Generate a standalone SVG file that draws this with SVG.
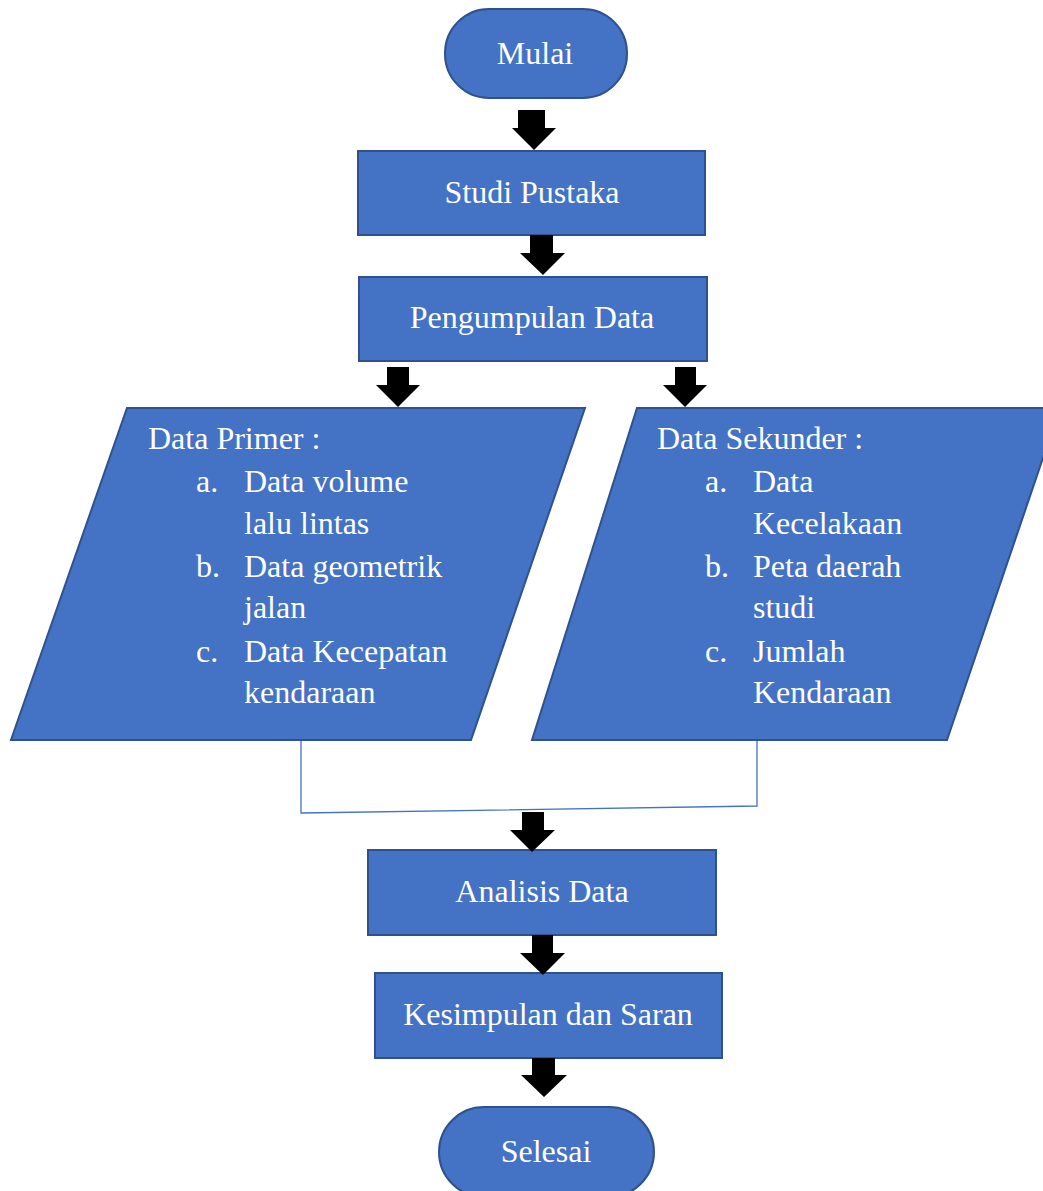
<svg xmlns="http://www.w3.org/2000/svg" width="1043" height="1191" viewBox="0 0 1043 1191">
<style>
.shape{fill:#4472C4;stroke:#2F528F;stroke-width:2}
.t{font-family:"Liberation Serif","Times New Roman",serif;font-size:32px;fill:#FFFFFF}
.c{text-anchor:middle}
.arrow{fill:#000000}
.line{fill:none;stroke:#4472C4;stroke-width:1.3}
</style>
<rect width="1043" height="1191" fill="#FFFFFF"/>
<g id="mulai">
<rect class="shape" x="445" y="9" width="182" height="89" rx="44" ry="44"/>
<text class="t c" x="535" y="64">Mulai</text>
</g>
<g id="studi-pustaka">
<rect class="shape" x="358" y="151" width="347" height="84"/>
<text class="t c" x="532" y="203">Studi Pustaka</text>
</g>
<g id="pengumpulan-data">
<rect class="shape" x="359" y="277" width="348" height="84"/>
<text class="t c" x="532" y="328">Pengumpulan Data</text>
</g>
<g id="data-primer">
<polygon class="shape" points="127,408 585,408 471,740 11,740"/>
<text class="t" x="148" y="449">Data Primer :</text>
<text class="t" x="196" y="492">a.</text>
<text class="t" x="244" y="492">Data volume</text>
<text class="t" x="244" y="534">lalu lintas</text>
<text class="t" x="196" y="577">b.</text>
<text class="t" x="244" y="577">Data geometrik</text>
<text class="t" x="244" y="618">jalan</text>
<text class="t" x="196" y="662">c.</text>
<text class="t" x="244" y="662">Data Kecepatan</text>
<text class="t" x="244" y="703">kendaraan</text>
</g>
<g id="data-sekunder">
<polygon class="shape" points="637,408 1060,408 947,740 532,740"/>
<text class="t" x="657" y="449">Data Sekunder :</text>
<text class="t" x="705" y="492">a.</text>
<text class="t" x="753" y="492">Data</text>
<text class="t" x="753" y="534">Kecelakaan</text>
<text class="t" x="705" y="577">b.</text>
<text class="t" x="753" y="577">Peta daerah</text>
<text class="t" x="753" y="618">studi</text>
<text class="t" x="705" y="662">c.</text>
<text class="t" x="753" y="662">Jumlah</text>
<text class="t" x="753" y="703">Kendaraan</text>
</g>
<g id="analisis-data">
<rect class="shape" x="368" y="850" width="348" height="85"/>
<text class="t c" x="542" y="902">Analisis Data</text>
</g>
<g id="kesimpulan">
<rect class="shape" x="375" y="973" width="347" height="85"/>
<text class="t c" x="548" y="1025">Kesimpulan dan Saran</text>
</g>
<g id="selesai">
<rect class="shape" x="439" y="1107" width="215" height="90" rx="45" ry="45"/>
<text class="t c" x="546" y="1162">Selesai</text>
</g>
<g id="connectors">
<polyline class="line" points="301,741 301,813 757,806 757,741"/>
<polygon class="arrow" points="518,110 545,110 545,128 556,128 534,150 512,128 518,128"/>
<polygon class="arrow" points="530,235 553,235 553,253 565,253 543,275 520,253 530,253"/>
<polygon class="arrow" points="387,367 409,367 409,385 420,385 398,407 376,385 387,385"/>
<polygon class="arrow" points="675,367 696,367 696,385 707,385 685,407 663,385 675,385"/>
<polygon class="arrow" points="522,812 544,812 544,830 555,830 532,852 510,830 522,830"/>
<polygon class="arrow" points="532,935 553,935 553,953 565,953 543,975 520,953 532,953"/>
<polygon class="arrow" points="532,1058 555,1058 555,1075 567,1075 544,1097 521,1075 532,1075"/>
</g>
</svg>
